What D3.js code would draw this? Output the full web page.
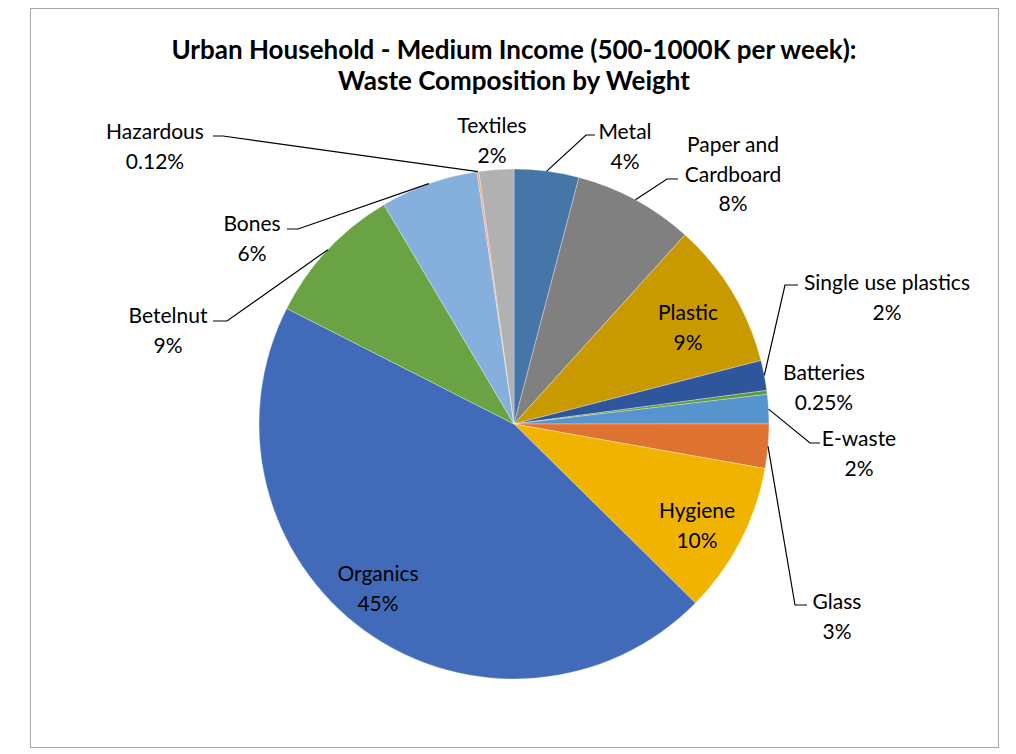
<!DOCTYPE html>
<html lang="en">
<head>
    <meta charset="UTF-8">
    <title>Waste Composition by Weight</title>
    <style>
        body { margin: 0; background: #fff; }
        svg { display: block; }
        text { font-family: Lato, "Open Sans", sans-serif; fill: #000; }
        .title { font-weight: bold; font-size: 26px; text-anchor: middle; }
        .lbl { font-size: 21px; text-anchor: middle; dominant-baseline: central; }
        .leader { fill: none; stroke: #000; stroke-width: 1.2; }
    </style>
    <script src="https://d3js.org/d3.v7.min.js"></script>
</head>
<body>
<svg width="1016" height="754"></svg>
<script>
    // дані (по годинниковій стрілці від 12-ї години)
    const categories = ["Metal", "Paper and Cardboard", "Plastic", "Single use plastics", "Batteries",
        "E-waste", "Glass", "Hygiene", "Organics", "Betelnut", "Bones", "Hazardous", "Textiles"];
    const values = [4.1, 7.6, 9.3, 1.9, 0.25, 1.85, 2.8, 9.6, 45.1, 9.0, 6.2, 0.12, 2.2];
    const pctLabels = ["4%", "8%", "9%", "2%", "0.25%", "2%", "3%", "10%", "45%", "9%", "6%", "0.12%", "2%"];
    const colors = ["#4676a8", "#808080", "#c99a00", "#2f569c", "#5e9c3a", "#5793cc", "#de7230",
        "#f0b400", "#416bb9", "#6aa343", "#85afdd", "#f3a17c", "#b1b1b1"];
    const titleLines = ["Urban Household - Medium Income (500-1000K per week):", "Waste Composition by Weight"];

    // розміщення підписів (як їх вручну розставили в Excel)
    const labelPos = {
        "Metal": { x: 625, y: 130, anchor: [595, 135], elbow: 586 },
        "Paper and Cardboard": { x: 733, y: 143, lines: ["Paper and", "Cardboard"], anchor: [678, 179], elbow: 667 },
        "Plastic": { x: 688, y: 311 },
        "Single use plastics": { x: 887, y: 281, anchor: [798, 285], elbow: 785 },
        "Batteries": { x: 824, y: 371 },
        "E-waste": { x: 859, y: 437, anchor: [820, 443], elbow: 810 },
        "Glass": { x: 837, y: 600, anchor: [807, 605], elbow: 795 },
        "Hygiene": { x: 697, y: 509 },
        "Organics": { x: 378, y: 572 },
        "Betelnut": { x: 168, y: 314, anchor: [213, 321], elbow: 227 },
        "Bones": { x: 252, y: 222, anchor: [287, 229], elbow: 298 },
        "Hazardous": { x: 155, y: 130, anchor: [213, 136], elbow: 223 },
        "Textiles": { x: 492, y: 124 }
    };

    const svg = d3.select("svg");
    const cx = 514, cy = 424, r = 255, lineH = 29.5;

    // рамка діаграми
    svg.append("rect")
        .attr("x", 30.5).attr("y", 8.5).attr("width", 968).attr("height", 739)
        .attr("fill", "#fff").attr("stroke", "#a6a6a6");

    svg.selectAll("text.title")
        .data(titleLines)
        .enter().append("text")
        .attr("class", "title")
        .attr("x", cx)
        .attr("y", (d, i) => 59 + i * 31)
        .text(d => d);

    const data = categories.map((c, i) => ({ name: c, value: values[i], label: pctLabels[i], color: colors[i] }));
    const pie = d3.pie().value(d => d.value).sort(null);
    const arc = d3.arc().innerRadius(0).outerRadius(r);
    const arcs = pie(data);

    const g = svg.append("g").attr("transform", `translate(${cx},${cy})`);
    g.selectAll("path")
        .data(arcs)
        .enter().append("path")
        .attr("d", arc)
        .attr("fill", d => d.data.color)
        .attr("stroke", "#fff")
        .attr("stroke-width", 0.5)
        .attr("stroke-opacity", 0.6);

    // лінії-виноски: від краю сектора до підпису
    arcs.forEach(a => {
        const p = labelPos[a.data.name];
        if (!p.anchor) return;
        const mid = (a.startAngle + a.endAngle) / 2;
        const ex = cx + r * Math.sin(mid), ey = cy - r * Math.cos(mid);
        svg.append("polyline")
            .attr("class", "leader")
            .attr("points", [[ex, ey], [p.elbow, p.anchor[1]], p.anchor].map(q => q.join(",")).join(" "));
    });

    // підписи
    arcs.forEach(a => {
        const p = labelPos[a.data.name];
        const lines = (p.lines || [a.data.name]).concat([a.data.label]);
        const t = svg.append("text").attr("class", "lbl");
        lines.forEach((s, i) => {
            t.append("tspan").attr("x", p.x).attr("y", p.y + i * lineH).text(s);
        });
    });
</script>
</body>
</html>
